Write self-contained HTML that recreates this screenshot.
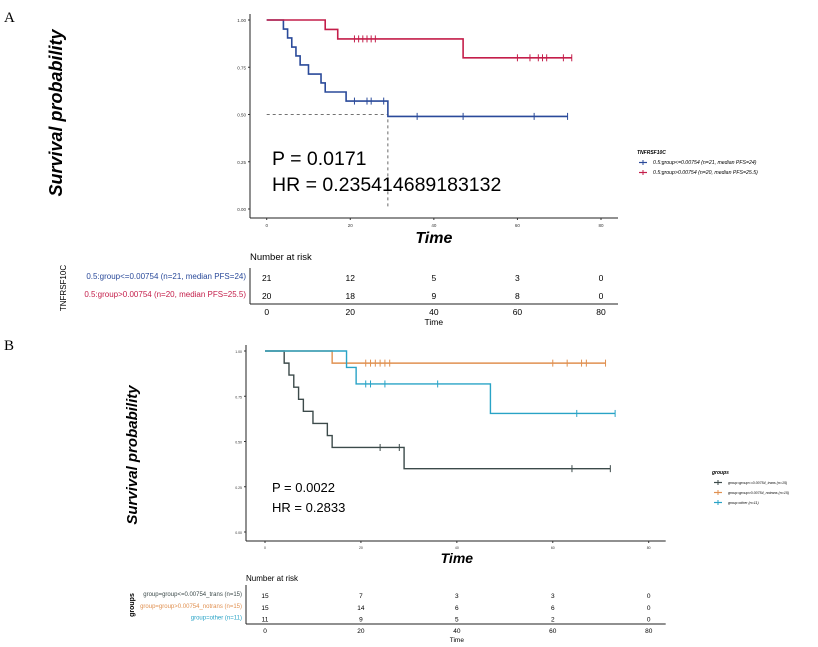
<!DOCTYPE html>
<html><head><meta charset="utf-8"><style>
body{margin:0;background:#fff}svg{display:block;font-family:"Liberation Sans",sans-serif}
</style></head><body>
<svg id="s" width="818" height="647" xmlns="http://www.w3.org/2000/svg">
<text x="4" y="22" font-family="Liberation Serif" font-size="15">A</text>
<text x="4" y="350" font-family="Liberation Serif" font-size="15">B</text>
<g id="g"></g>
</svg>
<script>
const xTicks=[0,20,40,60,80];
const yTicks=[0,0.25,0.5,0.75,1];
const yTickLabels=["0.00","0.25","0.50","0.75","1.00"];
// Panel A
const aBlueTimes=[0,4,5,6,7,8,10,13,14,19,29,72];
const aBlueSurv=[1,0.952,0.905,0.857,0.81,0.762,0.714,0.667,0.619,0.571,0.49,0.49];
const aBlueCens=[21,24,25,28,36,47,64,72];
const aRedTimes=[0,14,17,47,73];
const aRedSurv=[1,0.95,0.9,0.8,0.8];
const aRedCens=[21,22,23,24,25,26,60,63,65,66,67,71,73];
const aRisk=[[21,12,5,3,0],[20,18,9,8,0]];
// Panel B
const bGrayTimes=[0,4,5,6,7,8,10,13,14,29,72];
const bGraySurv=[1,0.933,0.867,0.8,0.733,0.667,0.6,0.533,0.467,0.35,0.35];
const bGrayCens=[24,28,64,72];
const bOrTimes=[0,14,71];
const bOrSurv=[1,0.933,0.933];
const bOrCens=[21,22,23,24,25,26,60,63,66,67,71];
const bCyTimes=[0,17,19,47,73];
const bCySurv=[1,0.909,0.818,0.655,0.655];
const bCyCens=[21,22,25,36,65,73];
const bRisk=[[15,7,3,3,0],[15,14,6,6,0],[11,9,5,2,0]];

const g=document.getElementById('g');const NS='http://www.w3.org/2000/svg';
function el(t,a,txt){const e=document.createElementNS(NS,t);for(const k in a)e.setAttribute(k,a[k]);if(txt!==undefined)e.textContent=txt;g.appendChild(e);return e;}
function panel(P){
 const X=t=>P.x0+t*(P.x80-P.x0)/80;
 const Yf=s=>P.y0-(P.y0-P.y1)*s;
 let e=el('line',{x1:P.ax,y1:P.y1-6,x2:P.ax,y2:P.ab,stroke:'#222','stroke-width':1});
 
 e=el('line',{x1:P.ax,y1:P.ab,x2:P.x80+17,y2:P.ab,stroke:'#222','stroke-width':1});
 
 yTicks.forEach((v,i)=>{e=el('text',{x:P.ax-4,y:Yf(v)+2,'font-size':P.tf,'text-anchor':'end',fill:'#333'},yTickLabels[i]);
  
  el('line',{x1:P.ax-2,x2:P.ax,y1:Yf(v),y2:Yf(v),stroke:'#333'});});
 xTicks.forEach(v=>{e=el('text',{x:X(v),y:P.tly,'font-size':P.tf,'text-anchor':'middle',fill:'#333'},v);
  
  el('line',{x1:X(v),x2:X(v),y1:P.ab,y2:P.ab+2,stroke:'#333'});});
 e=el('text',{x:X(40),y:P.tTitle,'font-size':P.ttf,'font-weight':'bold','font-style':'italic','text-anchor':'middle'},'Time');
 
 e=el('text',{x:P.ylx,y:P.yly,'font-size':P.ylf,'font-weight':'bold','font-style':'italic','text-anchor':'middle',transform:`rotate(-90 ${P.ylx} ${P.yly})`},'Survival probability');
 
 if(P.median){e=el('path',{d:`M${X(0)},${Yf(0.5)}H${X(P.median)}V${Yf(0)}`,fill:'none',stroke:'#444','stroke-dasharray':'3,3','stroke-width':0.8});
  }
 P.series.forEach(S=>{let d=`M${X(S.t[0])},${Yf(S.s[0])}`;
  for(let i=1;i<S.t.length;i++){d+=`H${X(S.t[i])}V${Yf(S.s[i])}`;}
  e=el('path',{d,fill:'none',stroke:S.c,'stroke-width':P.lw});
  
  S.cens.forEach(c=>{let s=S.s[0];for(let i=0;i<S.t.length;i++)if(S.t[i]<=c)s=S.s[i];
   e=el('line',{x1:X(c),x2:X(c),y1:Yf(s)-3.5,y2:Yf(s)+3.5,stroke:S.c,'stroke-width':1});
   });});
 P.stats.forEach((t,i)=>{e=el('text',{x:P.stx,y:P.sty+i*P.stdy,'font-size':P.stf},t);
  });
 e=el('text',{x:P.lgx,y:P.lgy,'font-size':5,'font-weight':'bold','font-style':'italic'},P.lgTitle);
 
 P.series.forEach((S,i)=>{const yy=P.lgy+P.lgdy*(i+1);
  el('line',{x1:P.lgx+2,x2:P.lgx+10,y1:yy-1.5,y2:yy-1.5,stroke:S.c,'stroke-width':1.2});
  el('line',{x1:P.lgx+6,x2:P.lgx+6,y1:yy-4,y2:yy+1,stroke:S.c,'stroke-width':1});
  e=el('text',{x:P.lgx+16,y:yy,'font-size':P.lgf,'font-style':'italic'},S.label);
  });
 e=el('text',{x:P.ax,y:P.rTitle,'font-size':P.rtf},'Number at risk');
 
 P.risk.forEach((row,i)=>{const yy=P.r0+i*P.rdy;
  e=el('text',{x:P.ax-4,y:yy-2,'font-size':P.rlf,'text-anchor':'end',fill:P.series[i].c},P.series[i].label);
  
  row.forEach((v,j)=>{e=el('text',{x:X(xTicks[j]),y:yy,'font-size':P.rf,'text-anchor':'middle'},v);
   });});
 el('line',{x1:P.ax,y1:P.r0-13,x2:P.ax,y2:P.rab,stroke:'#222'});
 el('line',{x1:P.ax,y1:P.rab,x2:P.x80+17,y2:P.rab,stroke:'#222'});
 xTicks.forEach(v=>{e=el('text',{x:X(v),y:P.rtly,'font-size':P.rf,'text-anchor':'middle'},v);
  });
 e=el('text',{x:X(40),y:P.rtt,'font-size':P.rf,'text-anchor':'middle'},'Time');
 
 e=el('text',{x:P.rgx,y:P.rgy,'font-size':P.rgf,'text-anchor':'middle',transform:`rotate(-90 ${P.rgx} ${P.rgy})`,'font-weight':P.rgw},P.rg);
 
}
panel({id:'a',x0:266.7,x80:601,y0:209,y1:20,ax:250,ab:218,tf:4.5,tly:227,tTitle:243,ttf:16,ylx:62,yly:113,ylf:18,lw:1.6,median:29,
 series:[{name:'low-group',c:'#2a4a9a',t:aBlueTimes,s:aBlueSurv,cens:aBlueCens,label:'0.5:group<=0.00754 (n=21, median PFS=24)'},
  {name:'high-group',c:'#c41e4a',t:aRedTimes,s:aRedSurv,cens:aRedCens,label:'0.5:group>0.00754 (n=20, median PFS=25.5)'}],
 stats:['P = 0.0171','HR = 0.235414689183132'],stx:272,sty:165,stdy:26,stf:19.5,
 lgx:637,lgy:154,lgdy:10,lgf:5.2,lgTitle:'TNFRSF10C',
 risk:aRisk,rTitle:260,rtf:9.5,r0:281,rdy:18,rf:8.5,rlf:8,rab:304,rtly:315,rtt:325,rgx:66,rgy:288,rgf:8,rg:'TNFRSF10C',rgw:'normal'});
panel({id:'b',x0:265,x80:648.7,y0:532,y1:351,ax:246,ab:541,tf:3.5,tly:549,tTitle:563,ttf:14,ylx:137,yly:455,ylf:15,lw:1.4,median:0,
 series:[{name:'trans-group',c:'#3c4a4a',t:bGrayTimes,s:bGraySurv,cens:bGrayCens,label:'group=group<=0.00754_trans (n=15)'},
  {name:'notrans-group',c:'#e09050',t:bOrTimes,s:bOrSurv,cens:bOrCens,label:'group=group>0.00754_notrans (n=15)'},
  {name:'other-group',c:'#29a3c6',t:bCyTimes,s:bCySurv,cens:bCyCens,label:'group=other (n=11)'}],
 stats:['P = 0.0022','HR = 0.2833'],stx:272,sty:492,stdy:20,stf:13,
 lgx:712,lgy:474,lgdy:10,lgf:3.6,lgTitle:'groups',
 risk:bRisk,rTitle:581,rtf:8,r0:598,rdy:11.8,rf:6.5,rlf:6,rab:624,rtly:633,rtt:642,rgx:134,rgy:605,rgf:7,rg:'groups',rgw:'bold'});
</script>
</body></html>
